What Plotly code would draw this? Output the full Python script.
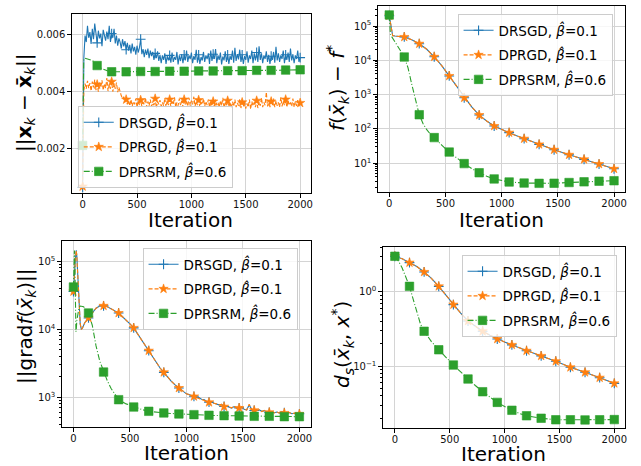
import plotly.graph_objects as go

# ---------------------------------------------------------------------------
# Data
# ---------------------------------------------------------------------------
ITER_MAX = 2000
N_MARK_INTERVALS = 15          # a marker every 2000/15 iterations
MARK_STEP = ITER_MAX / N_MARK_INTERVALS

X_TICKS = [0, 500, 1000, 1500, 2000]

# Consensus error ||x_k - x̄_k||, sampled every 2000/180 iterations
CONS_ITERS = [i * ITER_MAX / 180 for i in range(181)]
cons_drsgd = [
    0.00062, 0.00520, 0.00598, 0.00575, 0.00632, 0.00590, 0.00610, 0.00568, 0.00622, 0.00585, 0.00640, 0.00595,
    0.00572, 0.00615, 0.00588, 0.00605, 0.00560, 0.00618, 0.00592, 0.00580, 0.00612, 0.00585, 0.00632, 0.00575,
    0.00605, 0.00590, 0.00622, 0.00570, 0.00598, 0.00562, 0.00588, 0.00575, 0.00552, 0.00585, 0.00560, 0.00578,
    0.00548, 0.00572, 0.00545, 0.00565, 0.00535, 0.00570, 0.00542, 0.00558, 0.00530, 0.00562, 0.00538, 0.00555,
    0.00585, 0.00532, 0.00550, 0.00522, 0.00548, 0.00530, 0.00552, 0.00518, 0.00545, 0.00525, 0.00540, 0.00512,
    0.00535, 0.00518, 0.00542, 0.00508, 0.00530, 0.00500, 0.00528, 0.00512, 0.00535, 0.00498, 0.00525, 0.00510,
    0.00528, 0.00502, 0.00538, 0.00505, 0.00522, 0.00512, 0.00540, 0.00496, 0.00528, 0.00508, 0.00532, 0.00500,
    0.00530, 0.00510, 0.00545, 0.00505, 0.00528, 0.00515, 0.00538, 0.00500, 0.00525, 0.00512, 0.00548, 0.00502,
    0.00530, 0.00498, 0.00522, 0.00510, 0.00540, 0.00505, 0.00528, 0.00515, 0.00535, 0.00498, 0.00545, 0.00508,
    0.00532, 0.00515, 0.00550, 0.00500, 0.00528, 0.00512, 0.00538, 0.00496, 0.00524, 0.00510, 0.00542, 0.00505,
    0.00530, 0.00498, 0.00526, 0.00512, 0.00545, 0.00502, 0.00555, 0.00508, 0.00532, 0.00514, 0.00548, 0.00505,
    0.00530, 0.00498, 0.00525, 0.00512, 0.00542, 0.00502, 0.00528, 0.00515, 0.00545, 0.00500, 0.00535, 0.00510,
    0.00538, 0.00505, 0.00560, 0.00512, 0.00535, 0.00500, 0.00528, 0.00515, 0.00542, 0.00505, 0.00530, 0.00498,
    0.00525, 0.00512, 0.00540, 0.00502, 0.00558, 0.00510, 0.00535, 0.00505, 0.00528, 0.00515, 0.00545, 0.00500,
    0.00530, 0.00512, 0.00538, 0.00505, 0.00552, 0.00510, 0.00532, 0.00500, 0.00528, 0.00515, 0.00545, 0.00505,
    0.00520,
]
cons_dprgd = [
    0.00065, 0.00405, 0.00428, 0.00410, 0.00438, 0.00412, 0.00430, 0.00402, 0.00435, 0.00415, 0.00442, 0.00405,
    0.00425, 0.00400, 0.00432, 0.00415, 0.00440, 0.00405, 0.00428, 0.00412, 0.00448, 0.00402, 0.00425, 0.00410,
    0.00435, 0.00400, 0.00428, 0.00410, 0.00432, 0.00398, 0.00415, 0.00395, 0.00385, 0.00376, 0.00382, 0.00365,
    0.00372, 0.00355, 0.00368, 0.00350, 0.00372, 0.00348, 0.00365, 0.00355, 0.00375, 0.00345, 0.00368, 0.00352,
    0.00370, 0.00348, 0.00362, 0.00355, 0.00378, 0.00345, 0.00365, 0.00350, 0.00372, 0.00348, 0.00360, 0.00352,
    0.00375, 0.00342, 0.00365, 0.00355, 0.00370, 0.00348, 0.00362, 0.00350, 0.00378, 0.00345, 0.00368, 0.00352,
    0.00372, 0.00348, 0.00365, 0.00355, 0.00380, 0.00345, 0.00362, 0.00350, 0.00375, 0.00352, 0.00368, 0.00345,
    0.00372, 0.00355, 0.00365, 0.00348, 0.00378, 0.00350, 0.00368, 0.00355, 0.00382, 0.00348, 0.00365, 0.00352,
    0.00370, 0.00345, 0.00362, 0.00355, 0.00375, 0.00348, 0.00365, 0.00352, 0.00372, 0.00345, 0.00368, 0.00350,
    0.00365, 0.00348, 0.00372, 0.00352, 0.00362, 0.00345, 0.00368, 0.00350, 0.00378, 0.00342, 0.00360, 0.00352,
    0.00368, 0.00345, 0.00362, 0.00340, 0.00365, 0.00348, 0.00372, 0.00345, 0.00360, 0.00350, 0.00375, 0.00342,
    0.00362, 0.00348, 0.00368, 0.00340, 0.00358, 0.00345, 0.00372, 0.00338, 0.00365, 0.00350, 0.00362, 0.00345,
    0.00368, 0.00342, 0.00365, 0.00350, 0.00378, 0.00345, 0.00362, 0.00352, 0.00398, 0.00348, 0.00370, 0.00345,
    0.00365, 0.00352, 0.00375, 0.00345, 0.00368, 0.00350, 0.00362, 0.00345, 0.00380, 0.00348, 0.00365, 0.00352,
    0.00372, 0.00345, 0.00368, 0.00352, 0.00362, 0.00348, 0.00375, 0.00345, 0.00365, 0.00350, 0.00370, 0.00348,
    0.00360,
]
cons_dprsrm_iters = [0, 10, 20, 45, 67, 90, 110, 133.33, 170, 200, 233, 266.67, 400, 533.33, 666.67, 800,
                     933.33, 1066.67, 1200, 1333.33, 1466.67, 1600, 1733.33, 1866.67, 2000]
cons_dprsrm = [0.00210, 0.00515, 0.00518, 0.00516, 0.00514, 0.00510, 0.00502, 0.00492, 0.00482, 0.00477,
               0.00473, 0.00470, 0.00470, 0.00471, 0.00471, 0.00472, 0.00472, 0.00473, 0.00473, 0.00474,
               0.00474, 0.00475, 0.00475, 0.00476, 0.00477]
CONS_YTICKS = [0.002, 0.004, 0.006]
CONS_YTICK_LABELS = ["0.002", "0.004", "0.006"]

# Optimality gap f(x̄_k) - f*
gap_iters = [0, 10, 20, 30, 50, 80, 110, 133.33, 200, 266.67, 333.33, 400, 466.67, 533.33, 600, 666.67,
             733.33, 800, 866.67, 933.33, 1000, 1066.67, 1133.33, 1200, 1333.33, 1466.67, 1600, 1733.33,
             1866.67, 2000]
gap_drsgd = [2.0e5, 1.2e5, 6.3e4, 5.3e4, 5.1e4, 5.0e4, 4.9e4, 4.8e4, 4.0e4, 3.05e4, 2.1e4, 1.27e4, 7.0e3,
             3.5e3, 1.65e3, 8.1e2, 4.4e2, 2.54e2, 1.7e2, 1.22e2, 96, 78, 63, 52, 35.5, 24.8, 17.7, 13.0,
             9.5, 6.9]
gap_dprgd = [2.0e5, 1.2e5, 6.3e4, 5.3e4, 5.1e4, 5.0e4, 4.9e4, 4.8e4, 4.0e4, 3.05e4, 2.1e4, 1.27e4, 7.0e3,
             3.5e3, 1.65e3, 8.1e2, 4.4e2, 2.54e2, 1.7e2, 1.22e2, 96, 78, 63, 52, 35.5, 24.8, 17.7, 13.0,
             9.5, 6.9]
gap_dprsrm_iters = [0, 5, 10, 20, 40, 67, 100, 133.33, 167, 200, 233, 266.67, 300, 333.33, 366.67, 400,
                    466.67, 533.33, 600, 666.67, 733.33, 800, 866.67, 933.33, 1000, 1066.67, 1200, 1333.33,
                    1466.67, 1600, 1733.33, 1866.67, 2000]
gap_dprsrm = [2.1e5, 1.0e5, 5.8e4, 5.0e4, 4.0e4, 2.9e4, 1.9e4, 1.25e4, 6.0e3, 2.0e3, 7.0e2, 2.6e2, 1.45e2,
              95, 70, 56, 34, 21.2, 14.2, 9.8, 7.0, 5.3, 4.2, 3.5, 3.1, 2.85, 2.65, 2.6, 2.62, 2.75, 2.88,
              3.0, 3.1]
GAP_YTICKS = [1e1, 1e2, 1e3, 1e4, 1e5]
GAP_YTICK_LABELS = ["10<sup>1</sup>", "10<sup>2</sup>", "10<sup>3</sup>", "10<sup>4</sup>", "10<sup>5</sup>"]

# Riemannian gradient norm ||grad f(x̄_k)||
grad_iters = [0, 5, 10, 15, 20, 25, 30, 35, 40, 50, 60, 70, 80, 100, 133.33, 166.67, 200, 233.33, 266.67,
              300, 333.33, 366.67, 400, 433.33, 466.67, 500, 533.33, 566.67, 600, 633.33, 666.67, 700,
              733.33, 766.67, 800, 833.33, 866.67, 900, 933.33, 966.67] + \
             [1000 + i * 1000 / 45 for i in range(46)]
grad_dprgd = [3.6e4, 4.5e4, 6.5e4, 1.0e5, 1.35e5, 1.45e5, 1.2e5, 8.0e4, 5.0e4, 2.2e4, 1.2e4, 1.0e4, 1.05e4,
              1.25e4, 1.47e4, 1.8e4, 2.05e4, 2.2e4, 2.22e4, 2.15e4, 1.98e4, 1.87e4, 1.74e4, 1.55e4, 1.35e4,
              1.2e4, 1.05e4, 8.6e3, 7.1e3, 5.9e3, 4.85e3, 3.9e3, 3.2e3, 2.7e3, 2.33e3, 1.98e3, 1.72e3,
              1.52e3, 1.37e3, 1.24e3,
              1130, 1095, 1060, 1030, 1000, 985, 940, 925, 880, 844, 860, 815, 800, 770, 790, 728, 745, 720,
              700, 735, 690, 696, 720, 665, 650, 790, 660, 644, 635, 660, 618, 640, 605, 601, 625, 590, 612,
              585, 620, 589, 575, 600, 570, 585, 560, 569]
grad_drsgd = [3.6e4, 4.5e4, 6.5e4, 1.0e5, 1.35e5, 1.45e5, 1.2e5, 8.0e4, 5.0e4, 2.2e4, 1.2e4, 1.0e4, 1.05e4,
              1.25e4, 1.47e4, 1.8e4, 2.05e4, 2.2e4, 2.22e4, 2.15e4, 1.98e4, 1.87e4, 1.74e4, 1.55e4, 1.35e4,
              1.2e4, 1.05e4, 8.6e3, 7.1e3, 5.9e3, 4.85e3, 3.9e3, 3.2e3, 2.7e3, 2.33e3, 1.98e3, 1.72e3,
              1.52e3, 1.37e3, 1.24e3,
              1125, 1100, 1055, 1035, 995, 990, 935, 930, 875, 850, 855, 820, 795, 775, 785, 732, 740, 725,
              695, 730, 695, 700, 715, 668, 655, 770, 665, 640, 638, 655, 622, 635, 608, 598, 620, 594, 608,
              588, 615, 592, 578, 596, 574, 582, 563, 572]
grad_dprsrm_iters = [0, 3, 6, 9, 12, 15, 18, 22, 26, 30, 40, 50, 60, 75, 90, 110, 133.33, 166.67, 200, 233.33,
                     266.67, 300, 333.33, 366.67, 400, 466.67, 533.33, 600, 666.67, 733.33, 800, 866.67,
                     933.33, 1066.67, 1200, 1333.33, 1466.67, 1600, 1733.33, 1866.67, 2000]
grad_dprsrm = [4.2e4, 8.0e4, 1.35e5, 1.45e5, 1.1e5, 5.0e4, 1.8e4, 9.2e3, 1.05e4, 1.35e4, 1.85e4, 2.1e4,
               2.2e4, 2.2e4, 2.15e4, 1.95e4, 1.74e4, 1.15e4, 5.7e3, 3.4e3, 2.35e3, 1.75e3, 1.35e3, 1.1e3,
               923, 800, 720, 665, 622, 600, 589, 578, 569, 556, 543, 537, 531, 525, 525, 519, 519]
GRAD_YTICKS = [1e3, 1e4, 1e5]
GRAD_YTICK_LABELS = ["10<sup>3</sup>", "10<sup>4</sup>", "10<sup>5</sup>"]

# Distance to the optimum d_s(x̄_k, x*)
dist_iters = [0, 66.67, 133.33, 200, 266.67, 333.33, 400, 466.67, 533.33, 600, 666.67, 733.33, 800, 866.67,
              933.33, 1000, 1066.67, 1200, 1333.33, 1466.67, 1600, 1733.33, 1866.67, 2000]
dist_drsgd = [3.02, 2.8, 2.48, 2.2, 1.86, 1.52, 1.19, 0.9, 0.675, 0.52, 0.407, 0.345, 0.296, 0.262, 0.233,
              0.212, 0.194, 0.162, 0.138, 0.117, 0.0969, 0.083, 0.0703, 0.059]
dist_dprgd = [3.02, 2.8, 2.48, 2.2, 1.86, 1.52, 1.19, 0.9, 0.675, 0.52, 0.407, 0.345, 0.296, 0.262, 0.233,
              0.212, 0.194, 0.162, 0.138, 0.117, 0.0969, 0.083, 0.0703, 0.059]
dist_dprsrm_iters = [0, 33.33, 66.67, 100, 133.33, 166.67, 200, 233.33, 266.67, 333.33, 400, 466.67, 533.33,
                     600, 666.67, 733.33, 800, 866.67, 933.33, 1000, 1066.67, 1133.33, 1200, 1333.33,
                     1466.67, 1600, 1733.33, 1866.67, 2000]
dist_dprsrm = [3.02, 2.6, 2.1, 1.6, 1.19, 0.8, 0.52, 0.37, 0.296, 0.215, 0.167, 0.131, 0.104, 0.084, 0.0675,
               0.0552, 0.0455, 0.0385, 0.0327, 0.0288, 0.0256, 0.0233, 0.0216, 0.020, 0.0191, 0.0191,
               0.0190, 0.0191, 0.0192]
DIST_YTICKS = [1e-1, 1e0]
DIST_YTICK_LABELS = ["10<sup>−1</sup>", "10<sup>0</sup>"]

BETA = "<i>β\u0302</i>"
METHODS = {
    "DRSGD": dict(label=f"DRSGD, {BETA}=0.1", color="#1f77b4", dash="solid", symbol="cross-thin", size=7),
    "DPRGD": dict(label=f"DPRGD, {BETA}=0.1", color="#ff7f0e", dash="4px,2px", symbol="star", size=7),
    "DPRSRM": dict(label=f"DPRSRM, {BETA}=0.6", color="#2ca02c", dash="6px,2px,1px,2px", symbol="square", size=8.5),
}

# ---------------------------------------------------------------------------
# Figure
# ---------------------------------------------------------------------------
W, H = 641, 466
FONT = "DejaVu Sans"
CLEAR = "rgba(0,0,0,0)"

fig = go.Figure()


def is_mark(it):
    k = round(it / MARK_STEP)
    return abs(it - k * MARK_STEP) < 0.6


def add_series(panel, method, iters, values):
    st = METHODS[method]
    colors = [st["color"] if is_mark(it) else CLEAR for it in iters]
    open_sym = st["symbol"].endswith("-thin")
    marker = dict(symbol=st["symbol"], size=st["size"],
                  color=colors if not open_sym else st["color"],
                  line=dict(color=colors, width=1.1 if open_sym else 0.6))
    fig.add_trace(go.Scatter(
        x=iters, y=values, mode="lines+markers", name=st["label"],
        line=dict(color=st["color"], width=1.1, dash=st["dash"]),
        marker=marker,
        xaxis=f"x{panel}" if panel > 1 else "x",
        yaxis=f"y{panel}" if panel > 1 else "y",
        legend=f"legend{panel}" if panel > 1 else "legend",
        legendgroup=f"{method}-{panel}",
        showlegend=True, hoverinfo="skip",
    ))


add_series(1, "DRSGD", CONS_ITERS, cons_drsgd)
add_series(1, "DPRGD", CONS_ITERS, cons_dprgd)
add_series(1, "DPRSRM", cons_dprsrm_iters, cons_dprsrm)

add_series(2, "DRSGD", gap_iters, gap_drsgd)
add_series(2, "DPRGD", gap_iters, gap_dprgd)
add_series(2, "DPRSRM", gap_dprsrm_iters, gap_dprsrm)

add_series(3, "DRSGD", grad_iters, grad_drsgd)
add_series(3, "DPRGD", grad_iters, grad_dprgd)
add_series(3, "DPRSRM", grad_dprsrm_iters, grad_dprsrm)

add_series(4, "DRSGD", dist_iters, dist_drsgd)
add_series(4, "DPRGD", dist_iters, dist_dprgd)
add_series(4, "DPRSRM", dist_dprsrm_iters, dist_dprsrm)


def px_x(a, b):
    return [a / W, b / W]


def px_y(top, bottom):
    return [1 - bottom / H, 1 - top / H]


def minor_log(lo, hi):
    return [m * 10.0 ** e for e in range(lo, hi) for m in range(2, 10)]


axis_common = dict(showline=True, linecolor="black", linewidth=1, mirror=True,
                   ticks="outside", ticklen=3.5, tickwidth=1, tickcolor="black",
                   showgrid=True, gridcolor="#d4d4d4", gridwidth=1.3, zeroline=False,
                   tickfont=dict(family=FONT, size=10, color="#111"))
minor_common = dict(ticks="outside", ticklen=2, tickwidth=0.7, tickcolor="black", showgrid=False)

panels = {
    1: dict(dx=px_x(72, 312), dy=px_y(14, 193), xr=[-100, 2100], yr=[0.00042, 0.00674], ytype="linear",
            yt=CONS_YTICKS, ytl=CONS_YTICK_LABELS, minor=None),
    2: dict(dx=px_x(379, 627), dy=px_y(6, 192), xr=[-102, 2098], yr=[0.163, 5.583], ytype="log",
            yt=GAP_YTICKS, ytl=GAP_YTICK_LABELS, minor=minor_log(0, 6)),
    3: dict(dx=px_x(62, 312), dy=px_y(241, 427), xr=[-103, 2103], yr=[2.563, 5.30], ytype="log",
            yt=GRAD_YTICKS, ytl=GRAD_YTICK_LABELS, minor=minor_log(2, 6)),
    4: dict(dx=px_x(384, 627), dy=px_y(247, 428), xr=[-110, 2098], yr=[-1.83, 0.605], ytype="log",
            yt=DIST_YTICKS, ytl=DIST_YTICK_LABELS, minor=minor_log(-2, 1)),
}

layout = dict(width=W, height=H, margin=dict(l=0, r=0, t=0, b=0),
              paper_bgcolor="white", plot_bgcolor="white",
              font=dict(family=FONT, color="black"))

for p, cfg in panels.items():
    xs = "xaxis" if p == 1 else f"xaxis{p}"
    ys = "yaxis" if p == 1 else f"yaxis{p}"
    xa = "x" if p == 1 else f"x{p}"
    ya = "y" if p == 1 else f"y{p}"
    layout[xs] = dict(domain=cfg["dx"], anchor=ya, range=cfg["xr"], tickmode="array",
                      tickvals=X_TICKS, ticktext=[str(t) for t in X_TICKS], ticklabelstandoff=-2,
                      **axis_common)
    yax = dict(domain=cfg["dy"], anchor=xa, type=cfg["ytype"], range=cfg["yr"], tickmode="array",
               tickvals=cfg["yt"], ticktext=cfg["ytl"], **axis_common)
    if cfg["minor"]:
        yax["minor"] = dict(tickmode="array", tickvals=cfg["minor"], **minor_common)
    layout[ys] = yax

legend_style = dict(bgcolor="rgba(255,255,255,0.8)", bordercolor="#cccccc", borderwidth=1,
                    font=dict(family=FONT, size=13.5, color="black"), xanchor="left", yanchor="top",
                    tracegroupgap=4, traceorder="grouped", itemsizing="trace")
legend_pos = {1: (78, 106), 2: (459, 14), 3: (143, 248), 4: (463, 255)}
for p, (lx, ly) in legend_pos.items():
    key = "legend" if p == 1 else f"legend{p}"
    layout[key] = dict(x=lx / W, y=1 - ly / H, **legend_style)

fig.update_layout(**layout)

# Axis titles
XBAR = "x\u0304"
y_titles = [
    (25, 103, f"||<b>x</b><sub><i>k</i></sub> − <b>{XBAR}</b><sub><i>k</i></sub>||", 20),
    (338, 88, f"<i>f</i>(<i>{XBAR}</i><sub><i>k</i></sub>) − <i>f</i><sup>*</sup>", 20),
    (26, 326, f"||grad<i>f</i>(<i>{XBAR}</i><sub><i>k</i></sub>)||", 20),
    (343, 344, f"<i>d</i><sub><i>s</i></sub>(<i>{XBAR}</i><sub><i>k</i></sub>, <i>x</i><sup>*</sup>)", 20),
]
for cx, cy, text, size in y_titles:
    fig.add_annotation(x=cx / W, y=1 - cy / H, xref="paper", yref="paper", text=text, showarrow=False,
                       textangle=-90, xanchor="center", yanchor="middle",
                       font=dict(family=FONT, size=size, color="black"))

x_titles = [(191, 220), (503, 220), (187, 453), (505, 454)]
for cx, cy in x_titles:
    fig.add_annotation(x=cx / W, y=1 - cy / H, xref="paper", yref="paper", text="Iteration",
                       showarrow=False, xanchor="center", yanchor="middle",
                       font=dict(family=FONT, size=20, color="black"))

fig.write_html("out.html")
